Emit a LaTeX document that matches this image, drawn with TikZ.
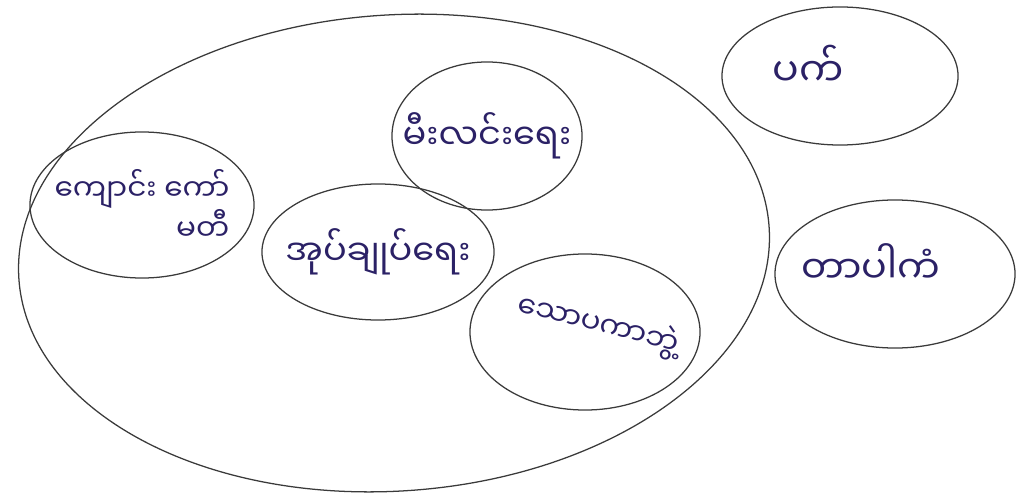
\documentclass[tikz,border=0pt]{standalone}
\usepackage{fontspec}
\newfontfamily\mmfont[Script=Myanmar]{Noto Sans Myanmar UI}
\usetikzlibrary{shapes.geometric}
\definecolor{pen}{HTML}{3A3A3A}
\definecolor{ink}{HTML}{2B2166}
\tikzset{
  group/.style={ellipse, draw=pen, line width=0.9pt, inner sep=0pt},
  word/.style={ink, font=\mmfont\fontsize{#1}{23}\selectfont},
  word/.default=22
}

\begin{document}
\begin{tikzpicture}[x=0.025cm, y=-0.025cm]
  \useasboundingbox (0,0) rectangle (1016,498);

  % Big outer circle
  \draw[pen, line width=0.9pt, rotate around={4:(394,253)}] (394,253) ellipse (376 and 238);

  % Groups inside
  \node[group, minimum width=4.75cm, minimum height=3.7cm] (light) at (487,136) {};
  \node[word=25] at (light.center) {မီးလင်းရေး};

  \node[group, minimum width=5.6cm, minimum height=3.65cm] (comm) at (142,205) {};
  \node[word=21, align=right] at (comm.center) {ကျောင်း ကော်\\မတီ};

  \node[group, minimum width=5.8cm, minimum height=3.4cm] (admin) at (378,252) {};
  \node[word=25] at (admin.center) {အုပ်ချုပ်ရေး};

  \node[group, minimum width=5.75cm, minimum height=3.9cm] (donor) at (585,332) {};
  \node[word=21, rotate=-14] at (598,325) {သောပကာဘွဲ့};

  % Groups outside
  \node[group, minimum width=5.9cm, minimum height=3.45cm] (pak) at (840,76) {};
  \node[word=28] at (808,66) {ပက်};

  \node[group, minimum width=6cm, minimum height=3.7cm] (tapa) at (895,274) {};
  \node[word=27] at (871,264) {တာပါကံ};
\end{tikzpicture}
\end{document}
